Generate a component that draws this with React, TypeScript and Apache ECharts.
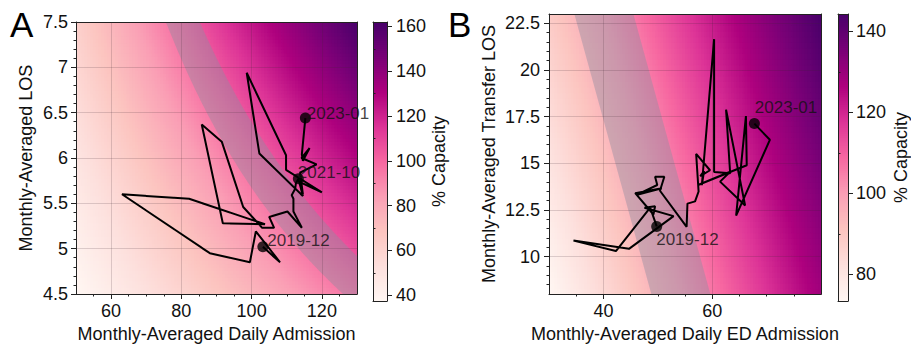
import React, { useEffect, useRef } from 'react';
import * as echarts from 'echarts';

// ---------------- Data ----------------
// Panel A: monthly-averaged daily admission vs LOS (2019-12 .. 2023-01)
const aAdmission = [103.2, 108.1, 101.2, 99.5, 88.1, 63.1, 82.2, 103.8, 91.8, 85.8, 91.5, 97.6, 103.0, 106.4, 105.0, 110.2, 114.3, 111.9, 111.9, 111.4, 112.4, 112.6, 113.3, 114.6, 102.2, 98.6, 109.8, 109.8, 120.0, 113.5, 114.6, 113.8, 118.5, 114.2, 116.5, 114.6, 114.3, 115.3];
const aLOS = [5.02, 4.85, 5.19, 4.85, 4.95, 5.60, 5.55, 5.27, 5.28, 6.37, 6.18, 5.46, 5.23, 5.23, 5.35, 5.41, 5.23, 5.41, 5.55, 5.59, 5.66, 5.72, 5.77, 5.58, 6.05, 6.94, 6.03, 5.87, 5.62, 5.74, 5.60, 5.84, 5.93, 6.00, 6.11, 5.97, 6.04, 6.44];
const aMarkedIdx = [0, 22, 37];
const aMarkedNames = ['2019-12', '2021-10', '2023-01'];

// Panel B: monthly-averaged daily ED admission vs transfer LOS
const bEDAdmission = [49.8, 48.6, 42.3, 34.5, 44.7, 52.9, 47.55, 49.5, 49.2, 45.85, 50.75, 46.2, 49.9, 49.5, 51.2, 50.4, 55.3, 55.45, 56.85, 57.5, 57.05, 59.6, 57.8, 58.5, 58.1, 60.35, 60.35, 63.3, 62.55, 66.05, 61.45, 63.3, 57.4, 66.35, 66.2, 64.4, 70.6, 67.75];
const bTransferLOS = [11.62, 12.63, 10.3, 10.86, 10.42, 12.17, 12.62, 12.7, 12.26, 13.4, 13.67, 13.32, 13.84, 14.28, 14.28, 13.53, 11.6, 12.84, 12.96, 13.49, 15.51, 14.63, 14.32, 14.58, 13.84, 21.65, 14.54, 14.47, 17.88, 12.74, 14.02, 14.55, 13.84, 14.9, 17.53, 12.2, 16.26, 17.13];
const bMarkedIdx = [0, 37];
const bMarkedNames = ['2019-12', '2023-01'];

// Axis ranges and tick labels
const aXRange = [50, 130];
const aYRange = [4.5, 7.5];
const aXTicks = [60, 80, 100, 120];
const aYTicks = [4.5, 5, 5.5, 6, 6.5, 7, 7.5];
const aCapRange = [37.4, 162];
const aCapTicks = [40, 60, 80, 100, 120, 140, 160];

const bXRange = [30, 80];
const bYRange = [8, 23];
const bXTicks = [40, 60];
const bYTicks = [10, 12.5, 15, 17.5, 20, 22.5];
const bCapRange = [73.4, 144.3];
const bCapTicks = [80, 100, 120, 140];

// Capacity models (background fields)
const A_CAP_DIVISOR = 6.02; // % capacity = admission * LOS / 6.02
const B_CAP_BASE = 73.4;
const B_CAP_SLOPE_X = 1.106;
const B_CAP_SLOPE_Y = 1.043;
const BAND = [94.2, 106.2];

const RDPU = ['#fff7f3', '#fde0dd', '#fcc5c0', '#fa9fb5', '#f768a1', '#dd3497', '#ae017e', '#7a0177', '#49006a'];
const FONT = 'Liberation Sans, Arial, Helvetica, sans-serif';

// ---------------- helpers ----------------
const capA = (x: number, y: number) => (x * y) / A_CAP_DIVISOR;
const capB = (x: number, y: number) => B_CAP_BASE + B_CAP_SLOPE_X * (x - bXRange[0]) + B_CAP_SLOPE_Y * (y - bYRange[0]);
const clamp = (v: number, lo: number, hi: number) => Math.max(lo, Math.min(hi, v));

function makeField(xr: number[], yr: number[], nx: number, ny: number, f: (x: number, y: number) => number) {
  const dx = (xr[1] - xr[0]) / nx;
  const dy = (yr[1] - yr[0]) / ny;
  const data: number[][] = [];
  for (let i = 0; i < nx; i++) {
    for (let j = 0; j < ny; j++) {
      const cx = xr[0] + (i + 0.5) * dx;
      const cy = yr[0] + (j + 0.5) * dy;
      data.push([cx, cy, f(cx, cy)]);
    }
  }
  return { data, dx, dy };
}

function minorValues(min: number, max: number, step: number, majors: number[]) {
  const out: number[] = [];
  const start = Math.ceil(min / step - 1e-9);
  for (let k = start; k * step <= max + 1e-9; k++) {
    const r = Math.round(k * step * 1000) / 1000;
    if (r <= min + 1e-9 || r >= max - 1e-9) continue;
    if (majors.some((m) => Math.abs(m - r) < 1e-6)) continue;
    out.push(r);
  }
  return out;
}

const axisLineStyle = { show: true, onZero: false, lineStyle: { color: '#222', width: 1 } };

function lineOnlyAxis(gridIndex: number, position: string, min: number, max: number) {
  return {
    type: 'value', gridIndex, position, min, max, z: 4,
    axisLine: axisLineStyle,
    axisTick: { show: false }, axisLabel: { show: false }, splitLine: { show: false },
  };
}

function majorAxis(gridIndex: number, position: string, min: number, max: number, values: number[], name: string, nameGap: number, labelMargin: number) {
  return {
    type: 'value', gridIndex, position, min, max, z: 4,
    axisLine: axisLineStyle,
    axisTick: { show: true, length: 5, customValues: values, lineStyle: { color: '#222', width: 1 } },
    axisLabel: {
      show: true, customValues: values, color: '#111', fontSize: 18, fontFamily: FONT,
      margin: labelMargin, showMinLabel: true, showMaxLabel: true,
    },
    splitLine: { show: false },
    name, nameLocation: 'middle', nameGap,
    nameRotate: position === 'left' || position === 'right' ? 90 : 0,
    nameTextStyle: { color: '#111', fontSize: 18, fontFamily: FONT },
  };
}

function minorAxis(gridIndex: number, position: string, min: number, max: number, values: number[]) {
  return {
    type: 'value', gridIndex, position, min, max, z: 4,
    axisLine: { show: false },
    axisTick: { show: true, length: 2.5, customValues: values, lineStyle: { color: '#222', width: 1 } },
    axisLabel: { show: false }, splitLine: { show: false },
  };
}

function heatSeries(xAxisIndex: number, yAxisIndex: number, field: { data: number[][]; dx: number; dy: number }) {
  const { data, dx, dy } = field;
  return {
    type: 'custom', xAxisIndex, yAxisIndex, z: 1, silent: true, clip: true,
    encode: { x: 0, y: 1 },
    data,
    renderItem: (params: any, api: any) => {
      const x = api.value(0);
      const y = api.value(1);
      const p0 = api.coord([x - dx / 2, y + dy / 2]);
      const p1 = api.coord([x + dx / 2, y - dy / 2]);
      return {
        type: 'rect',
        shape: { x: p0[0], y: p0[1], width: p1[0] - p0[0] + 0.8, height: p1[1] - p0[1] + 0.8 },
        style: { fill: api.visual('color') },
      };
    },
  };
}

function colorbarSeries(xAxisIndex: number, yAxisIndex: number, range: number[]) {
  const n = 140;
  const dv = (range[1] - range[0]) / n;
  const data: number[][] = [];
  for (let i = 0; i < n; i++) {
    const v = range[0] + (i + 0.5) * dv;
    data.push([0.5, v, v]);
  }
  return {
    type: 'custom', xAxisIndex, yAxisIndex, z: 1, silent: true,
    encode: { x: 0, y: 1 },
    data,
    renderItem: (params: any, api: any) => {
      const v = api.value(1);
      const p0 = api.coord([0, v + dv / 2]);
      const p1 = api.coord([1, v - dv / 2]);
      return {
        type: 'rect',
        shape: { x: p0[0], y: p0[1], width: p1[0] - p0[0], height: p1[1] - p0[1] + 0.8 },
        style: { fill: api.visual('color') },
      };
    },
  };
}

const BAND_FILL = 'rgba(140,140,160,0.42)';

function bandSeriesA() {
  return {
    type: 'custom', xAxisIndex: 0, yAxisIndex: 0, z: 2, silent: true,
    data: [[aXRange[0], aYRange[0]]],
    renderItem: (params: any, api: any) => {
      const N = 160;
      const pts: number[][] = [];
      for (let k = 0; k <= N; k++) {
        const x = aXRange[0] + ((aXRange[1] - aXRange[0]) * k) / N;
        const y = clamp((BAND[1] * A_CAP_DIVISOR) / x, aYRange[0], aYRange[1]);
        pts.push(api.coord([x, y]));
      }
      for (let k = N; k >= 0; k--) {
        const x = aXRange[0] + ((aXRange[1] - aXRange[0]) * k) / N;
        const y = clamp((BAND[0] * A_CAP_DIVISOR) / x, aYRange[0], aYRange[1]);
        pts.push(api.coord([x, y]));
      }
      return { type: 'polygon', shape: { points: pts }, style: { fill: BAND_FILL } };
    },
  };
}

function bandSeriesB() {
  const xFor = (c: number, y: number) =>
    clamp(bXRange[0] + (c - B_CAP_BASE - B_CAP_SLOPE_Y * (y - bYRange[0])) / B_CAP_SLOPE_X, bXRange[0], bXRange[1]);
  return {
    type: 'custom', xAxisIndex: 5, yAxisIndex: 6, z: 2, silent: true,
    data: [[bXRange[0], bYRange[0]]],
    renderItem: (params: any, api: any) => {
      const N = 40;
      const pts: number[][] = [];
      for (let k = 0; k <= N; k++) {
        const y = bYRange[0] + ((bYRange[1] - bYRange[0]) * k) / N;
        pts.push(api.coord([xFor(BAND[1], y), y]));
      }
      for (let k = N; k >= 0; k--) {
        const y = bYRange[0] + ((bYRange[1] - bYRange[0]) * k) / N;
        pts.push(api.coord([xFor(BAND[0], y), y]));
      }
      return { type: 'polygon', shape: { points: pts }, style: { fill: BAND_FILL } };
    },
  };
}

function gridMarkLine(xs: number[], ys: number[]) {
  return {
    silent: true, symbol: ['none', 'none'], label: { show: false },
    lineStyle: { color: 'rgba(60,40,50,0.18)', width: 1, type: 'solid' },
    emphasis: { disabled: true },
    data: [...xs.map((v) => ({ xAxis: v })), ...ys.map((v) => ({ yAxis: v }))],
  };
}

// label placement (styling, not data)
const labelOffsets: Record<string, number[]> = {
  'A:2019-12': [-1, -6],
  'A:2021-10': [-6, -6],
  'A:2023-01': [-4, -5],
  'B:2019-12': [-6, 13],
  'B:2023-01': [-5, -16],
};

function markSeries(panel: string, xAxisIndex: number, yAxisIndex: number, xs: number[], ys: number[], idx: number[], names: string[]) {
  return {
    type: 'scatter', xAxisIndex, yAxisIndex, z: 6, symbolSize: 11, silent: true,
    itemStyle: { color: '#000' },
    data: idx.map((i, k) => ({
      value: [xs[i], ys[i]],
      name: names[k],
      label: {
        show: true, position: 'right', distance: 0,
        offset: labelOffsets[panel + ':' + names[k]],
        formatter: '{b}', color: '#111', fontSize: 17, fontFamily: FONT,
      },
    })),
  };
}

function buildOption() {
  const fieldA = makeField(aXRange, aYRange, 100, 80, capA);
  const fieldB = makeField(bXRange, bYRange, 100, 50, capB);

  const gridLinesA = { x: [60, 80, 100, 120], y: [5, 5.5, 6, 6.5, 7] };
  const gridLinesB = { x: [40, 60], y: [10, 12.5, 15, 17.5, 20, 22.5] };

  return {
    animation: false,
    backgroundColor: '#fff',
    grid: [
      { left: 76, top: 22, width: 281, height: 279 },
      { left: 373, top: 22, width: 14, height: 279 },
      { left: 549, top: 14, width: 272, height: 287 },
      { left: 838, top: 14, width: 14, height: 287 },
    ],
    xAxis: [
      majorAxis(0, 'bottom', aXRange[0], aXRange[1], aXTicks, 'Monthly-Averaged Daily Admission', 31, 8),
      minorAxis(0, 'bottom', aXRange[0], aXRange[1], minorValues(aXRange[0], aXRange[1], 5, aXTicks)),
      lineOnlyAxis(0, 'top', aXRange[0], aXRange[1]),
      lineOnlyAxis(1, 'bottom', 0, 1),
      lineOnlyAxis(1, 'top', 0, 1),
      majorAxis(2, 'bottom', bXRange[0], bXRange[1], bXTicks, 'Monthly-Averaged Daily ED Admission', 31, 8),
      minorAxis(2, 'bottom', bXRange[0], bXRange[1], minorValues(bXRange[0], bXRange[1], 5, bXTicks)),
      lineOnlyAxis(2, 'top', bXRange[0], bXRange[1]),
      lineOnlyAxis(3, 'bottom', 0, 1),
      lineOnlyAxis(3, 'top', 0, 1),
    ],
    yAxis: [
      majorAxis(0, 'left', aYRange[0], aYRange[1], aYTicks, 'Monthly-Averaged LOS', 41, 8),
      minorAxis(0, 'left', aYRange[0], aYRange[1], minorValues(aYRange[0], aYRange[1], 0.1, aYTicks)),
      lineOnlyAxis(0, 'right', aYRange[0], aYRange[1]),
      lineOnlyAxis(1, 'left', aCapRange[0], aCapRange[1]),
      majorAxis(1, 'right', aCapRange[0], aCapRange[1], aCapTicks, '% Capacity', 41, 9),
      minorAxis(1, 'right', aCapRange[0], aCapRange[1], minorValues(aCapRange[0], aCapRange[1], 10, aCapTicks)),
      majorAxis(2, 'left', bYRange[0], bYRange[1], bYTicks, 'Monthly-Averaged Transfer LOS', 51, 9),
      minorAxis(2, 'left', bYRange[0], bYRange[1], minorValues(bYRange[0], bYRange[1], 0.5, bYTicks)),
      lineOnlyAxis(2, 'right', bYRange[0], bYRange[1]),
      lineOnlyAxis(3, 'left', bCapRange[0], bCapRange[1]),
      majorAxis(3, 'right', bCapRange[0], bCapRange[1], bCapTicks, '% Capacity', 44, 8),
      minorAxis(3, 'right', bCapRange[0], bCapRange[1], minorValues(bCapRange[0], bCapRange[1], 10, bCapTicks)),
    ],
    visualMap: [
      { type: 'continuous', show: false, dimension: 2, seriesIndex: [0, 4], min: aCapRange[0], max: aCapRange[1], inRange: { color: RDPU } },
      { type: 'continuous', show: false, dimension: 2, seriesIndex: [5, 9], min: bCapRange[0], max: bCapRange[1], inRange: { color: RDPU } },
    ],
    graphic: [
      { type: 'text', left: 10, top: 7, style: { text: 'A', fontSize: 35, fontFamily: FONT, fill: '#000' } },
      { type: 'text', left: 448, top: 7, style: { text: 'B', fontSize: 35, fontFamily: FONT, fill: '#000' } },
    ],
    series: [
      heatSeries(0, 0, fieldA),
      bandSeriesA(),
      {
        type: 'line', xAxisIndex: 0, yAxisIndex: 0, z: 5, silent: true,
        data: aAdmission.map((x, i) => [x, aLOS[i]]),
        showSymbol: false, symbol: 'none',
        lineStyle: { color: '#000', width: 2 },
        markLine: gridMarkLine(gridLinesA.x, gridLinesA.y),
      },
      markSeries('A', 0, 0, aAdmission, aLOS, aMarkedIdx, aMarkedNames),
      colorbarSeries(3, 3, aCapRange),
      heatSeries(5, 6, fieldB),
      bandSeriesB(),
      {
        type: 'line', xAxisIndex: 5, yAxisIndex: 6, z: 5, silent: true,
        data: bEDAdmission.map((x, i) => [x, bTransferLOS[i]]),
        showSymbol: false, symbol: 'none',
        lineStyle: { color: '#000', width: 2 },
        markLine: gridMarkLine(gridLinesB.x, gridLinesB.y),
      },
      markSeries('B', 5, 6, bEDAdmission, bTransferLOS, bMarkedIdx, bMarkedNames),
      colorbarSeries(8, 9, bCapRange),
    ],
  };
}

export default function App() {
  const ref = useRef<HTMLDivElement>(null);
  useEffect(() => {
    document.body.style.margin = '0';
    if (!ref.current) return;
    const chart = echarts.init(ref.current, undefined, { renderer: 'svg' });
    chart.setOption(buildOption() as any);
    return () => {
      chart.dispose();
    };
  }, []);
  return <div ref={ref} style={{ width: 911, height: 348 }} />;
}
